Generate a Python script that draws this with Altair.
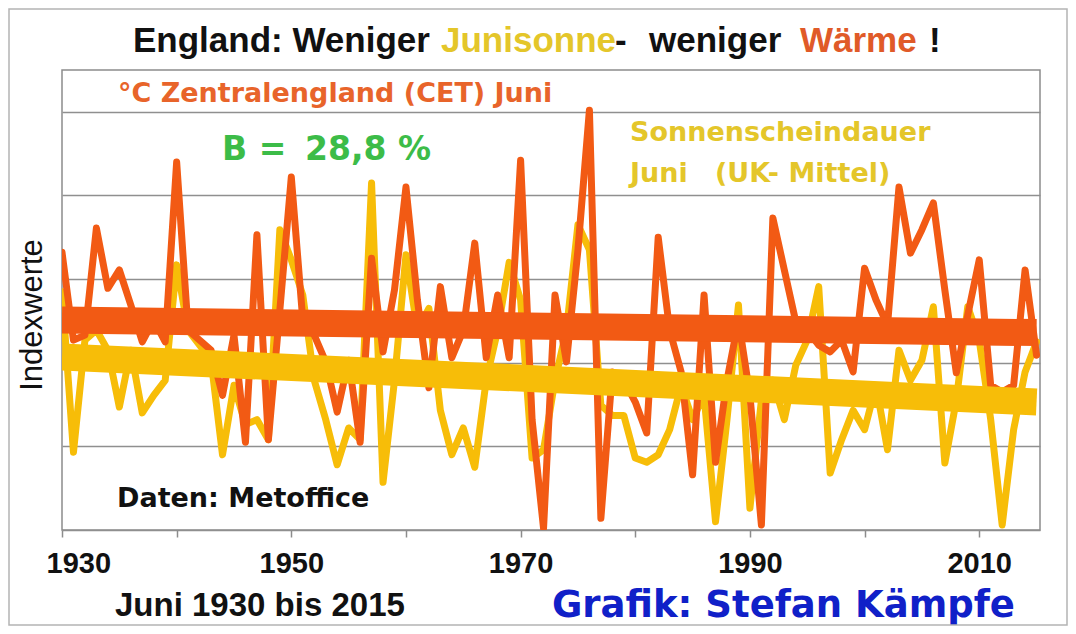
import altair as alt
import pandas as pd

# ---------------- data (index values) ----------------
years = list(range(1930, 2016))

cet_index = [
    3.32, 2.27, 2.33, 3.61, 2.89, 3.11, 2.69, 2.25, 2.51, 2.25,   # 1930-39
    4.40, 2.39, 2.27, 2.15, 1.61, 2.33, 1.05, 3.53, 1.08, 2.63,   # 1940-49
    4.22, 2.51, 2.33, 2.01, 1.41, 2.03, 1.05, 3.25, 2.13, 2.87,   # 1950-59
    4.10, 2.75, 1.70, 2.91, 2.06, 2.39, 3.43, 2.06, 2.81, 2.06,   # 1960-69
    4.42, 1.32, 0.02, 2.81, 2.01, 3.35, 5.02, 0.14, 1.89, 1.79,   # 1970-79
    1.53, 1.16, 3.50, 2.39, 1.89, 0.66, 2.81, 0.81, 1.79, 2.51,   # 1980-89
    1.61, 0.06, 3.73, 3.11, 2.49, 2.39, 2.21, 2.13, 2.27, 1.89,   # 1990-99
    3.13, 2.75, 2.45, 4.10, 3.31, 3.59, 3.91, 2.87, 1.88, 2.57,   # 2000-09
    3.23, 1.73, 1.65, 1.73, 3.11, 2.09,                           # 2010-15
]

sun_index = [
    2.85, 0.93, 2.27, 2.39, 2.15, 1.47, 2.15, 1.40, 1.61, 1.79,   # 1930-39
    3.17, 2.39, 2.21, 2.03, 0.90, 1.73, 1.26, 1.32, 1.08, 3.59,   # 1940-49
    3.23, 2.81, 1.79, 1.32, 0.78, 1.22, 1.08, 4.15, 0.57, 1.79,   # 1950-59
    3.29, 2.39, 2.65, 1.43, 0.90, 1.22, 0.75, 1.79, 2.39, 3.20,   # 1960-69
    2.75, 0.86, 0.96, 1.79, 2.39, 3.65, 3.35, 1.49, 1.37, 1.37,   # 1970-79
    0.86, 0.81, 0.90, 1.20, 1.73, 1.32, 1.61, 0.10, 1.32, 2.69,   # 1980-89
    0.26, 1.55, 1.79, 1.32, 1.97, 2.27, 2.91, 0.68, 1.08, 1.43,   # 1990-99
    1.20, 1.73, 0.96, 2.15, 1.79, 2.03, 2.67, 0.80, 1.55, 2.67,   # 2000-09
    2.27, 1.32, 0.06, 1.20, 1.89, 2.25,                           # 2010-15
]

trend_years = [1930, 2015]
cet_trend = [2.51, 2.36]
sun_trend = [2.07, 1.53]

x_ticks = [1930, 1940, 1950, 1960, 1970, 1980, 1990, 2000, 2010]
y_grid = [0, 1, 2, 3, 4, 5]

# ---------------- styling ----------------
ORANGE = "#f25a14"
YELLOW = "#f7bd08"
ORANGE_TXT = "#e8642a"
YELLOW_TXT = "#e4c62a"
GREEN = "#3cbc48"
BLUE = "#1020c8"
GRAY = "#8c8c8c"

W, H = 978, 460

df = pd.DataFrame({"Jahr": years, "CET": cet_index, "Sonne": sun_index})
tr = pd.DataFrame({"Jahr": trend_years, "CET": cet_trend, "Sonne": sun_trend})

xscale = alt.Scale(domain=[1930, 2015.3], nice=False, zero=False)
yscale = alt.Scale(domain=[0, 5.5], nice=False, zero=False)

x_axis = alt.Axis(
    values=x_ticks, format="d",
    labelExpr="datum.value % 20 == 0 ? '' : datum.label",
    grid=False, domain=False, ticks=True, tickSize=7, tickColor=GRAY, tickWidth=1.5,
    labelFont="Liberation Sans", labelFontWeight="bold", labelFontSize=29,
    labelColor="#111111", labelPadding=12, labelOverlap=False, labelBound=False,
    labelFlush=True, labelFlushOffset=16, title=None,
)
y_axis = alt.Axis(
    values=y_grid, grid=True, gridColor="#8f8f8f", gridWidth=1.3,
    labels=False, ticks=False, domain=False, title=None,
)

X = alt.X("Jahr:Q", scale=xscale, axis=x_axis)

sun_line = alt.Chart(df).mark_line(
    color=YELLOW, strokeWidth=7, strokeJoin="round", strokeCap="round", clip=True
).encode(x=X, y=alt.Y("Sonne:Q", scale=yscale, axis=y_axis))

cet_line = alt.Chart(df).mark_line(
    color=ORANGE, strokeWidth=7, strokeJoin="round", strokeCap="round", clip=True
).encode(x=X, y=alt.Y("CET:Q", scale=yscale, axis=y_axis))

cet_tr = alt.Chart(tr).mark_line(color=ORANGE, strokeWidth=27, clip=True).encode(
    x=X, y=alt.Y("CET:Q", scale=yscale, axis=y_axis))
sun_tr = alt.Chart(tr).mark_line(color=YELLOW, strokeWidth=27, clip=True).encode(
    x=X, y=alt.Y("Sonne:Q", scale=yscale, axis=y_axis))

one = alt.Data(values=[{}])


def txt(s, x, y, size, color, font="DejaVu Sans", weight="bold", angle=0, align="left"):
    kw = dict(font=font, fontSize=size, fontWeight=weight, color=color,
              align=align, baseline="alphabetic")
    if angle:
        kw["angle"] = angle
    return alt.Chart(one).mark_text(**kw).encode(
        x=alt.value(x), y=alt.value(y), text=alt.value(s))


texts = [
    # title (multi-coloured)
    txt("England: Weniger", 71, -18, 35, "#111111", font="Liberation Sans"),
    txt("Junisonne", 379, -18, 35, YELLOW_TXT, font="Liberation Sans"),
    txt("-", 553, -18, 35, "#111111", font="Liberation Sans"),
    txt("weniger", 587, -18, 35, "#111111", font="Liberation Sans"),
    txt("Wärme", 738, -18, 35, "#e05a28", font="Liberation Sans"),
    txt("!", 867, -18, 35, "#111111", font="Liberation Sans"),
    # inside annotations
    txt("°C Zentralengland (CET) Juni", 56, 32, 27, ORANGE_TXT),
    txt("B =", 160, 90, 33, GREEN),
    txt("28,8 %", 243, 90, 33, GREEN),
    txt("Sonnenscheindauer", 568, 71, 27, YELLOW_TXT),
    txt("Juni", 568, 112, 27, YELLOW_TXT),
    txt("(UK- Mittel)", 653, 112, 27, YELLOW_TXT),
    txt("Daten: Metoffice", 55, 437, 27, "#111111"),
    # outside annotations
    txt("Indexwerte", -20, 245, 31, "#111111", font="Liberation Sans",
        weight="normal", angle=270, align="center"),
    txt("Juni 1930 bis 2015", 53, 546, 33, "#111111", font="Liberation Sans"),
    txt("Grafik: Stefan Kämpfe", 490, 547, 37, BLUE),
]

frame = alt.Chart(one).mark_rect(filled=False, stroke="#b4b4b4", strokeWidth=1.5).encode(
    x=alt.value(-53), x2=alt.value(1005), y=alt.value(-61), y2=alt.value(555))

chart = alt.layer(sun_line, cet_line, cet_tr, sun_tr, *texts, frame).properties(
    width=W, height=H,
    padding={"left": 54, "top": 62, "right": 28, "bottom": 96},
    autosize=alt.AutoSizeParams(type="none"),
    background="white",
).configure_view(stroke=GRAY, strokeWidth=1.5)

chart.save("out.html", embed_options={"renderer": "svg", "actions": False})
